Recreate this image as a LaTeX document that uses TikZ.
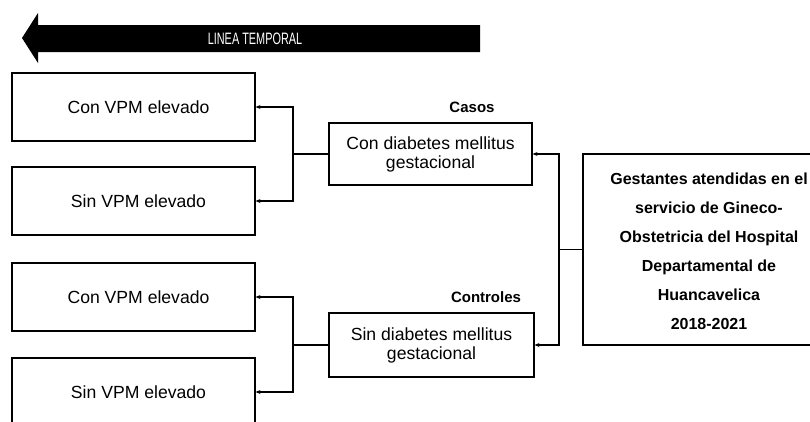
\documentclass[tikz,border=0pt]{standalone}
\usepackage{fontspec}
\setmainfont{Liberation Sans}
\newfontfamily\narrowfont[FakeStretch=0.66]{Liberation Sans}
\usetikzlibrary{arrows.meta}
\begin{document}
\begin{tikzpicture}[x=1pt,y=-1pt,
  box/.style={draw,line width=1.1pt,inner sep=0pt,align=center,font=\fontsize{17.6}{19}\selectfont},
  vpm/.style={box,minimum width=243pt,minimum height=68pt},
  conn/.style={line width=1.1pt},
  arr/.style={conn,-{Stealth[length=5pt,width=4pt]}},
  grp/.style={font=\fontsize{15}{17}\bfseries\selectfont}]
\useasboundingbox (0,0) rectangle (810,421);
\clip (0,0) rectangle (810,421);
% timeline arrow
\fill[black] (22,38) -- (38,13) -- (38,25) -- (480,25) -- (480,52) -- (38,52) -- (38,63) -- cycle;
\node[text=white,font=\narrowfont\fontsize{16.5}{18}\selectfont,inner sep=0pt] (tl) at (255,39) {LINEA TEMPORAL};
% left boxes
\node[vpm] (b1) at (133.5,107) {\hspace*{10pt}Con VPM elevado};
\node[vpm] (b2) at (133.5,201) {\hspace*{10pt}Sin VPM elevado};
\node[vpm] (b3) at (133.5,297) {\hspace*{10pt}Con VPM elevado};
\node[vpm] (b4) at (133.5,392) {\hspace*{10pt}Sin VPM elevado};
% middle boxes
\node[box,minimum width=203pt,minimum height=62pt] (casos) at (430.5,154) {Con diabetes mellitus\\gestacional};
\node[box,minimum width=205pt,minimum height=64pt] (ctrl) at (431.5,345) {Sin diabetes mellitus\\gestacional};
\node[grp,inner sep=0pt] (lcasos) at (472,107) {Casos};
\node[grp,inner sep=0pt] (lctrl) at (486,297) {Controles};
% big box
\node[draw,line width=1.1pt,inner sep=0pt,minimum width=252pt,minimum height=191pt] (big) at (709,249.5) {};
\node[inner sep=0pt,align=center,font=\fontsize{16}{29}\bfseries\selectfont] (bigtxt) at (709,251) {Gestantes atendidas en el\\servicio\ de\ Gineco-\\Obstetricia\ del\ Hospital\\Departamental\ de\\Huancavelica\\2018-2021};
% connectors
\coordinate (j1) at (293,154);
\coordinate (j2) at (293,345);
\coordinate (j3) at (559,249.5);
\draw[conn] (casos.west) -- (j1);
\draw[arr] (j1) |- (b1.east);
\draw[arr] (j1) |- (b2.east);
\draw[conn] (ctrl.west) -- (j2);
\draw[arr] (j2) |- (b3.east);
\draw[arr] (j2) |- (b4.east);
\draw[conn] (big.west) -- (j3);
\draw[arr] (j3) |- (casos.east);
\draw[arr] (j3) |- (ctrl.east);
\end{tikzpicture}
\end{document}
